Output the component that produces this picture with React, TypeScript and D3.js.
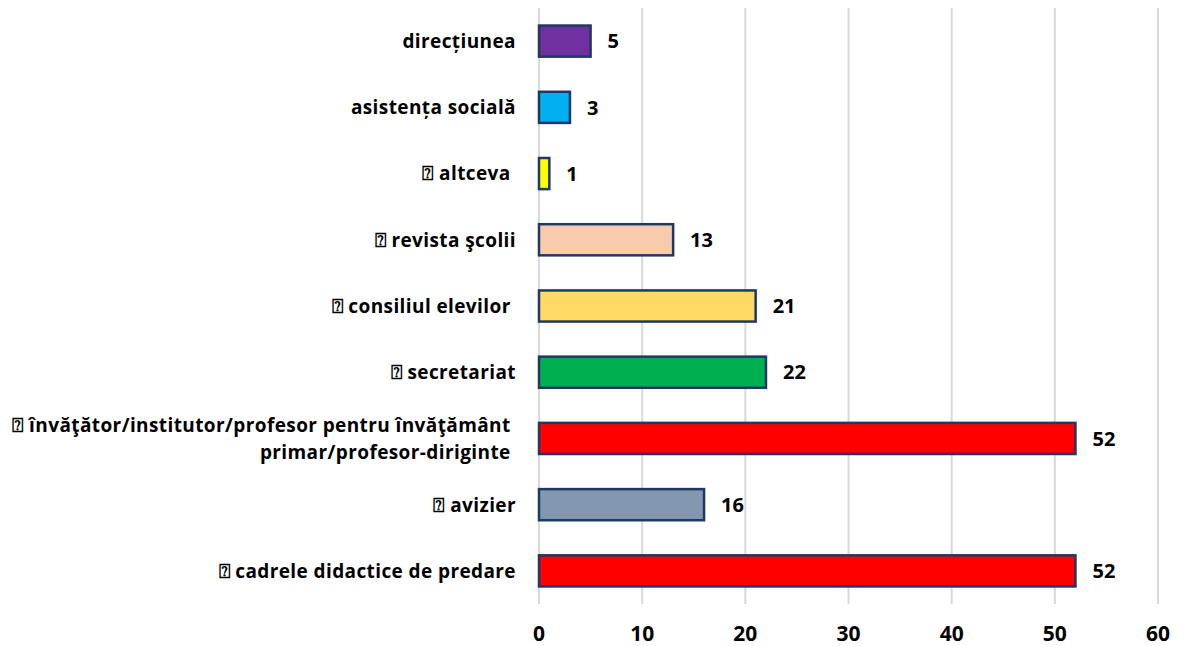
import React from "react";
import * as d3 from "d3";

const categories: string[][] = [
  ["direcțiunea"],
  ["asistența socială"],
  ["⍰ altceva "],
  ["⍰ revista şcolii"],
  ["⍰ consiliul elevilor "],
  ["⍰ secretariat"],
  ["⍰ învăţător/institutor/profesor pentru învăţământ ", "primar/profesor-diriginte "],
  ["⍰ avizier"],
  ["⍰ cadrele didactice de predare"],
];
const values: number[] = [5, 3, 1, 13, 21, 22, 52, 16, 52];
const colors: string[] = [
  "#7030A0",
  "#00B0F0",
  "#FFFF00",
  "#F8CBAD",
  "#FFD966",
  "#00B050",
  "#FF0000",
  "#8497B0",
  "#FF0000",
];
const xTicks: number[] = [0, 10, 20, 30, 40, 50, 60];

const W = 1186;
const H = 646;
const left = 539;
const right = 1158;
const top = 8;
const bottom = 604;
const FONT = "'Open Sans', sans-serif";

export default function App() {
  const x = d3.scaleLinear().domain([0, 60]).range([left, right]);
  const y = d3
    .scaleBand<number>()
    .domain(d3.range(categories.length))
    .range([top, bottom])
    .paddingInner(0.53)
    .paddingOuter(0.265);
  const bh = y.bandwidth();
  return (
    <svg
      width={W}
      height={H}
      style={{ position: "absolute", left: 0, top: 0, background: "#fff" }}
      fontFamily={FONT}
    >
      {xTicks.map((t) => (
        <g key={t}>
          <line x1={x(t)} x2={x(t)} y1={top} y2={bottom} stroke="#D9D9D9" strokeWidth={2} />
          <text
            x={x(t)}
            y={641}
            textAnchor="middle"
            fontSize={21}
            fontWeight="bold"
            fill="#000"
          >
            {t}
          </text>
        </g>
      ))}
      {values.map((v, i) => {
        const yc = (y(i) as number) + bh / 2;
        const lines = categories[i];
        return (
          <g key={i}>
            <rect
              x={x(0)}
              y={y(i)}
              width={x(v) - x(0)}
              height={bh}
              fill={colors[i]}
              stroke="#1F3864"
              strokeWidth={2.5}
            />
            <text
              x={x(v) + 17}
              y={yc}
              dy="0.36em"
              fontSize={20}
              fontWeight="bold"
              fill="#000"
            >
              {v}
            </text>
            {lines.map((l, k) => (
              <text
                key={k}
                x={516}
                y={yc + (k - (lines.length - 1) / 2) * 27}
                dy="0.36em"
                textAnchor="end"
                fontSize={19}
                letterSpacing={0.4}
                fontWeight="bold"
                fill="#000"
                style={{ whiteSpace: "pre" }}
              >
                {l}
              </text>
            ))}
          </g>
        );
      })}
    </svg>
  );
}
